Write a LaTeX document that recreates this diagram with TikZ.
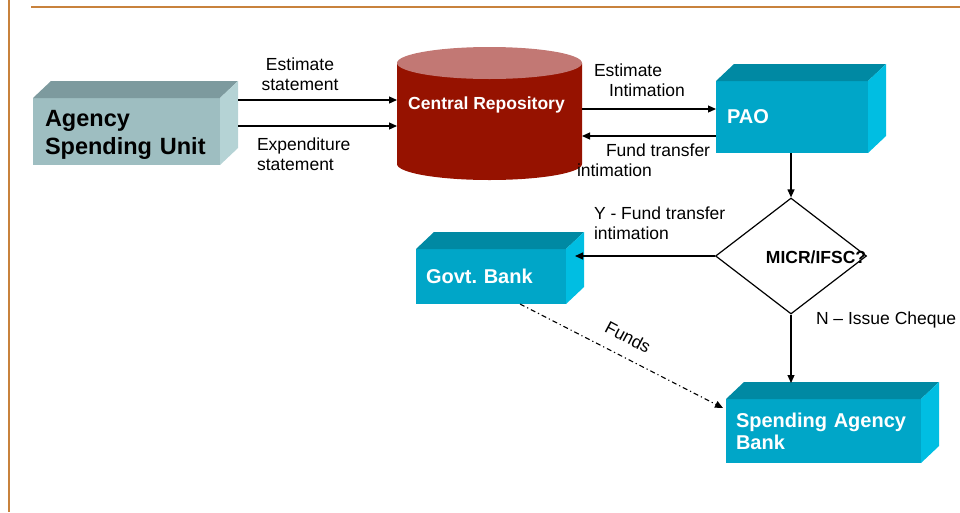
\documentclass[tikz,border=0pt]{standalone}
\usepackage{fontspec}
\setmainfont{Liberation Sans}
\usetikzlibrary{arrows.meta,shapes.geometric}
\definecolor{frameor}{HTML}{C8823C}
\definecolor{asufront}{HTML}{9EBEC1}
\definecolor{asutop}{HTML}{7D9A9E}
\definecolor{asuside}{HTML}{B5D3D5}
\definecolor{bfront}{HTML}{00A6C8}
\definecolor{btop}{HTML}{0089A3}
\definecolor{bside}{HTML}{00BEE2}
\definecolor{crbody}{HTML}{961200}
\definecolor{crtop}{HTML}{C27874}
\newcommand\cubefaces[3]{%
  \fill[#2] (#1.north west) -- ++(18,-17) -- ([xshift=18pt,yshift=17pt]#1.north east) -- (#1.north east) -- cycle;
  \fill[#3] (#1.north east) -- ++(18,-17) -- ([xshift=18pt,yshift=17pt]#1.south east) -- (#1.south east) -- cycle;}
\begin{document}
\begin{tikzpicture}[x=1pt,y=-1pt,
  lbl/.style={font=\fontsize{17.5}{20}\selectfont, inner sep=0pt, outer sep=0pt, align=left},
  cube/.style={rectangle, inner ysep=0pt, outer sep=0pt, anchor=north west, align=left,
    text=white, fill=bfront, font=\bfseries\fontsize{20}{22}\selectfont},
  arr/.style={line width=1.2pt, -{Triangle[length=8pt,width=7pt]}},
  funds/.style={line width=1.1pt, dash pattern=on 5pt off 3pt on 1.2pt off 3pt, -{Triangle[length=8pt,width=7pt]}}]
\useasboundingbox (0,0) rectangle (960,512);
% frame lines
\draw[frameor, line width=2.5pt] (9,0) -- (9,512);
\draw[frameor, line width=1.2pt] (31,7) -- (960,7);

% Agency Spending Unit
\node[cube, fill=asufront, text=black, inner xsep=12pt, text width=163pt, minimum height=67pt,
  font=\bfseries\fontsize{23.5}{28}\selectfont] (asu) at (33,98) {\rule{0pt}{23pt}Agency\\\mbox{Spending Unit}};
\cubefaces{asu}{asutop}{asuside}
\coordinate (asuR) at ([xshift=18pt]asu.north east);

% Central Repository cylinder
\node[inner sep=0pt, outer sep=0pt, minimum width=185pt, minimum height=133pt] (cr) at (489.5,113.5) {};
\fill[crbody] (397,63) -- (397,164) arc[start angle=180, end angle=0, x radius=92.5, y radius=16] -- (582,63) -- cycle;
\fill[crtop] (489.5,63) ellipse[x radius=92.5, y radius=16];
\node[text=white, inner sep=0pt, font=\bfseries\fontsize{17.5}{20}\selectfont] (crt) at (486.5,105) {Central Repository};

% PAO
\node[cube, inner xsep=11pt, text width=130pt, minimum height=72pt] (pao) at (716,81) {PAO};
\cubefaces{pao}{btop}{bside}

% Govt. Bank
\node[cube, inner xsep=10pt, text width=130pt, minimum height=55pt] (gb) at (416,249) {Govt.\ Bank};
\cubefaces{gb}{btop}{bside}
\coordinate (gbR) at ([xshift=9pt]gb.east);
\coordinate (gbF) at ([xshift=29pt]gb.south);

% Spending Agency Bank
\node[cube, inner xsep=10pt, text width=175pt, minimum height=64pt] (sab) at (726,399) {\mbox{Spending Agency}\\Bank};
\cubefaces{sab}{btop}{bside}
\coordinate (sabT) at ([yshift=16pt]sab.north);
\coordinate (sabF) at ([xshift=-3pt,yshift=23pt]sab.west);

% Decision diamond
\node[diamond, draw, line width=1.2pt, minimum width=151pt, minimum height=116pt, inner sep=0pt] (dec) at (791,256) {};
\node[inner sep=0pt, font=\bfseries\fontsize{17.5}{20}\selectfont] (dtext) at (816,257) {MICR/IFSC?};

% connectors
\draw[arr] ([yshift=-2pt]asuR) -- ([yshift=-2pt]asuR -| cr.west);
\draw[arr] ([yshift=-28pt]asuR) -- ([yshift=-28pt]asuR -| cr.west);
\draw[arr] ([yshift=8pt]pao.west -| cr.east) -- ([yshift=8pt]pao.west);
\draw[arr] ([yshift=-19pt]pao.west) -- ([yshift=-19pt]pao.west -| cr.east);
\draw[arr] (dec.north |- pao.south) -- (dec.north);
\draw[arr] (dec.west) -- (gbR |- dec.west);
\draw[arr] (dec.south) -- (dec.south |- sabT);
\draw[funds] (gbF) -- (sabF);

% labels
\node[lbl, align=center] (l1) at (300,74.5) {Estimate\\statement};
\node[lbl, anchor=west] (l2) at (257,154) {Expenditure\\statement};
\node[lbl, anchor=west] (l3) at (594,80) {Estimate\\\hspace*{15pt}Intimation};
\node[lbl, anchor=west] (l4) at (577,160.5) {\hspace*{29pt}Fund transfer\\intimation};
\node[lbl, anchor=west] (l5) at (594,223) {Y - Fund transfer\\intimation};
\node[lbl, anchor=west] (l6) at (816,320) {N -- Issue Cheque};
\node[lbl, rotate=-28] (l7) at (628,337) {Funds};
\end{tikzpicture}
\end{document}
